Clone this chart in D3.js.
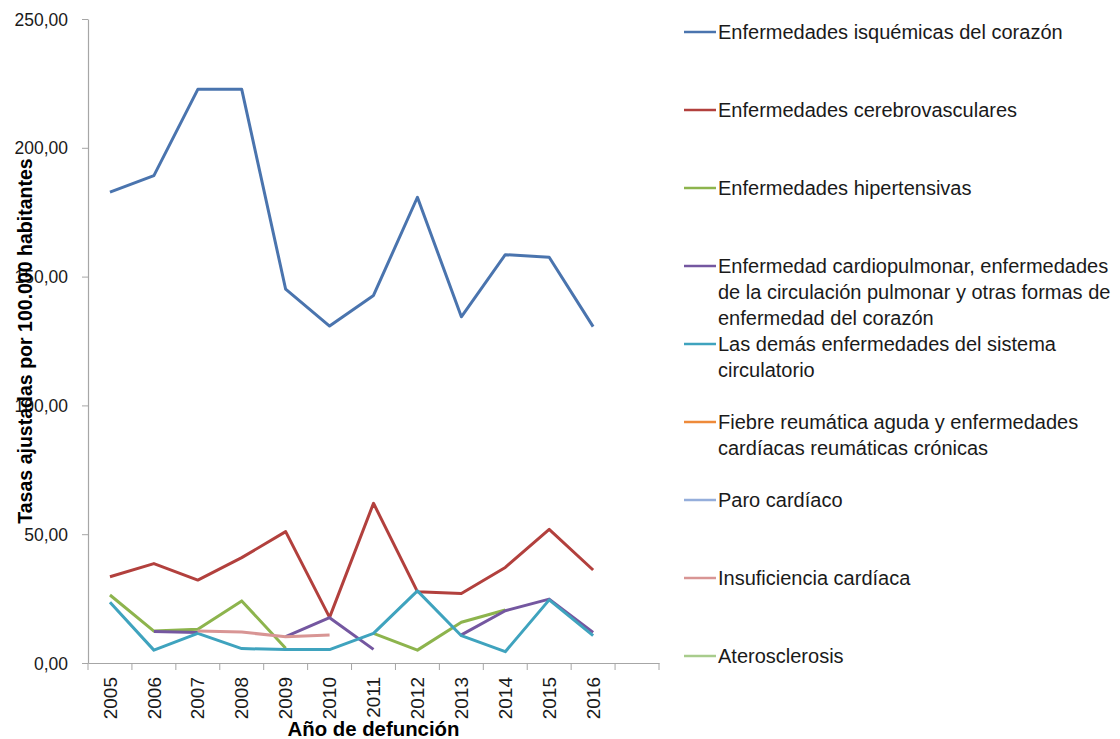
<!DOCTYPE html>
<html>
<head>
<meta charset="utf-8">
<script src="https://cdn.jsdelivr.net/npm/d3@7"></script>
<style>
  body { margin: 0; background: #fff; }
  svg { display: block; font-family: "Liberation Sans Narrow", "Arial Narrow", "Liberation Sans", Arial, sans-serif; }
  .axis path, .axis line { stroke: #a6a6a6; }
  .axis text { fill: #1a1a1a; }
</style>
</head>
<body>
<div id="chart"></div>
<script>
const years = ['2005', '2006', '2007', '2008', '2009', '2010', '2011', '2012', '2013', '2014', '2015', '2016', ''];
const yTicks = [0, 50, 100, 150, 200, 250];

const seriesNames = [
  'Enfermedades isquémicas del corazón',
  'Enfermedades cerebrovasculares',
  'Enfermedades hipertensivas',
  'Enfermedad cardiopulmonar, enfermedades de la circulación pulmonar y otras formas de enfermedad del corazón',
  'Las demás enfermedades del sistema circulatorio',
  'Fiebre reumática aguda y enfermedades cardíacas reumáticas crónicas',
  'Paro cardíaco',
  'Insuficiencia cardíaca',
  'Aterosclerosis'
];

// legend labels as wrapped in the original
const legendLines = [
  ['Enfermedades isquémicas del corazón'],
  ['Enfermedades cerebrovasculares'],
  ['Enfermedades hipertensivas'],
  ['Enfermedad cardiopulmonar, enfermedades', 'de la circulación pulmonar y otras formas de', 'enfermedad del corazón'],
  ['Las demás enfermedades del sistema', 'circulatorio'],
  ['Fiebre reumática aguda y enfermedades', 'cardíacas reumáticas crónicas'],
  ['Paro cardíaco'],
  ['Insuficiencia cardíaca'],
  ['Aterosclerosis']
];

const colors = ['#4a74ae', '#b2403d', '#8db44d', '#7457a0', '#3fa3be', '#ee8a3a', '#95aedb', '#d89594', '#a8cc8c'];

const isquemicas = [182.8, 189.2, 222.7, 222.7, 145.1, 130.8, 142.7, 180.8, 134.4, 158.5, 157.5, 130.6];
const cerebro = [33.5, 38.6, 32.2, 40.9, 51.0, 17.7, 62.0, 27.7, 27.0, 37.1, 51.9, 36.1];
const hipertensivas = [26.4, 12.4, 13.1, 24.1, 5.7, null, 11.5, 5.0, 15.8, 20.6, null, null];
const cardiopulmonar = [null, 12.2, 11.8, null, 10.2, 17.6, 5.3, null, 10.9, 20.3, 24.8, 11.9];
const demas = [23.6, 5.0, 11.5, 5.6, 5.2, 5.2, 11.5, 28.0, 10.6, 4.4, 24.5, 10.6];
const fiebre = [null, null, null, null, null, null, null, null, null, null, null, null];
const paro = [null, null, null, null, null, null, null, null, null, null, null, null];
const insuficiencia = [null, null, 12.4, 12.0, 10.2, 10.9, null, null, null, null, null, null];
const ateros = [null, null, null, null, null, null, null, null, null, null, null, null];

const seriesValues = [isquemicas, cerebro, hipertensivas, cardiopulmonar, demas, fiebre, paro, insuficiencia, ateros];

const width = 1120, height = 739;
const margin = { left: 88, top: 19, right: 461, bottom: 76 };
const plotW = width - margin.left - margin.right;
const plotH = height - margin.top - margin.bottom;

const svg = d3.select('#chart').append('svg')
  .attr('width', width)
  .attr('height', height);

const x = d3.scaleBand().domain(years).range([0, plotW]);
const y = d3.scaleLinear().domain([0, 250]).range([plotH, 0]);

const g = svg.append('g').attr('transform', `translate(${margin.left},${margin.top})`);

// squeeze text a bit, the original uses a narrow face
function narrow(sel, f) {
  sel.each(function() {
    const w = this.getComputedTextLength();
    d3.select(this).attr('textLength', w * f).attr('lengthAdjust', 'spacingAndGlyphs');
  });
}

// y axis
const yAxis = g.append('g').attr('class', 'axis')
  .call(d3.axisLeft(y).tickValues(yTicks).tickSize(6).tickSizeOuter(0)
    .tickFormat(d => d3.format('.2f')(d).replace('.', ',')));
yAxis.selectAll('text').attr('font-size', 19).attr('x', -20);
yAxis.select('.domain').attr('stroke-width', 1.2);
narrow(yAxis.selectAll('text'), 0.92);

// x axis, ticks between categories
const xAxis = g.append('g').attr('class', 'axis')
  .attr('transform', `translate(0,${plotH})`)
  .call(d3.axisBottom(x).tickSize(0).tickSizeOuter(0));
xAxis.select('.domain').attr('stroke-width', 1.2);
xAxis.selectAll('text')
  .attr('font-size', 19)
  .attr('transform', 'rotate(-90)')
  .attr('text-anchor', 'end')
  .attr('x', -14)
  .attr('y', 0)
  .attr('dy', '0.35em');

const bounds = years.map(d => x(d)).concat([plotW]);
xAxis.selectAll('.sep')
  .data(bounds)
  .enter()
  .append('line')
  .attr('class', 'sep')
  .attr('x1', d => d).attr('x2', d => d)
  .attr('y1', 0).attr('y2', 7);

// lines
const line = d3.line()
  .defined(d => d.v !== null)
  .x(d => x(d.year) + x.bandwidth() / 2)
  .y(d => y(d.v));

seriesValues.forEach((vals, i) => {
  const pts = vals.map((v, j) => ({ year: years[j], v }));
  g.append('path')
    .datum(pts)
    .attr('fill', 'none')
    .attr('stroke', colors[i])
    .attr('stroke-width', 3)
    .attr('stroke-linejoin', 'round')
    .attr('d', line);
});

// axis titles
const yTitle = svg.append('text')
  .attr('transform', `translate(32,${margin.top + plotH / 2}) rotate(-90)`)
  .attr('text-anchor', 'middle')
  .attr('font-size', 21)
  .attr('font-weight', 'bold')
  .text('Tasas ajustadas por 100.000 habitantes');
narrow(yTitle, 0.93);

const xTitle = svg.append('text')
  .attr('x', margin.left + plotW / 2)
  .attr('y', 736)
  .attr('text-anchor', 'middle')
  .attr('font-size', 21)
  .attr('font-weight', 'bold')
  .text('Año de defunción');
narrow(xTitle, 0.97);

// legend
const legend = svg.append('g').attr('transform', 'translate(684,32)');
legendLines.forEach((lines, i) => {
  const item = legend.append('g').attr('transform', `translate(0,${i * 78})`);
  item.append('line')
    .attr('x1', 0).attr('x2', 32)
    .attr('y1', 0).attr('y2', 0)
    .attr('stroke', colors[i])
    .attr('stroke-width', 2.5);
  lines.forEach((t, k) => {
    item.append('text')
      .attr('x', 34)
      .attr('y', k * 26)
      .attr('dy', '0.35em')
      .attr('font-size', 20)
      .attr('fill', '#1a1a1a')
      .text(t);
  });
});
</script>
</body>
</html>
